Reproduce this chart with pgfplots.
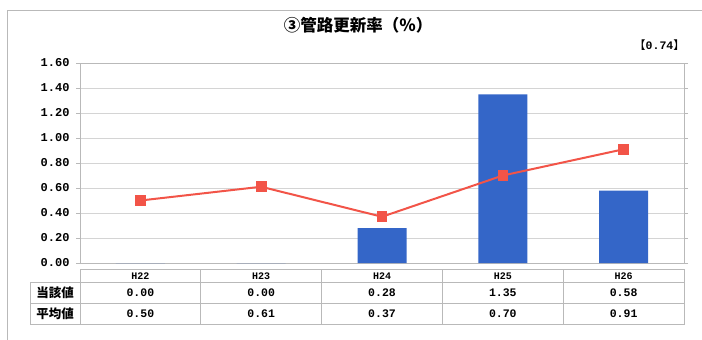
\documentclass[border=0pt]{standalone}
\usepackage{pgfplots}
\pgfplotsset{compat=1.18}
\usepackage{fontspec}
\setmainfont{Liberation Sans}
\newfontfamily\cjk{Noto Sans CJK JP}
\newfontfamily\mono{Liberation Mono}
\definecolor{barblue}{RGB}{52,102,200}
\definecolor{linered}{RGB}{242,84,72}
\definecolor{gridc}{RGB}{212,212,212}
\definecolor{framec}{RGB}{185,185,185}
\begin{document}
\begin{tikzpicture}
\path[use as bounding box] (0,0) rectangle (702bp,-340bp);
% outer frame
\draw[framec, line width=0.8bp] (7.5bp,-340bp) -- (7.5bp,-10.5bp) -- (702bp,-10.5bp);
% title
\node[font={\cjk\bfseries\fontsize{16.5bp}{18bp}\selectfont}] at (358bp,-25bp) {③管路更新率（％）};
\node[anchor=east, inner sep=0pt, font={\fontsize{11.5bp}{12bp}\selectfont}] at (685bp,-45bp) {{\cjk 【}{\mono\bfseries 0.74}{\cjk 】}};
\begin{axis}[
  at={(80bp,-263bp)}, anchor=south west,
  scale only axis, width=604bp, height=200bp,
  xmin=-0.5, xmax=4.5, ymin=0, ymax=1.6,
  xtick=\empty,
  ytick={0,0.2,0.4,0.6,0.8,1.0,1.2,1.4,1.6},
  ymajorgrids, grid style={gridc, line width=0.6bp},
  axis line style={framec, line width=0.8bp},
  tick align=outside, major tick length=4bp,
  ytick style={framec, line width=0.7bp},
  /pgf/number format/assume math mode=true,
  yticklabel={\pgfmathprintnumber[fixed,fixed zerofill,precision=2]{\tick}},
  yticklabel style={font={\mono\bfseries\fontsize{12bp}{12bp}\selectfont}, xshift=-3bp},
  clip=false,
]
\addplot[ybar, bar width=49bp, fill=barblue, draw=none] coordinates {(0,0) (1,0) (2,0.28) (3,1.35) (4,0.58)};
\addplot[color=linered, line width=2bp, mark=square*, mark size=4.3bp, mark options={fill=linered, draw=linered}] coordinates {(0,0.50) (1,0.61) (2,0.37) (3,0.70) (4,0.91)};
\end{axis}
% data table
\begin{scope}[draw=framec, line width=0.7bp]
\draw (80bp,-269.5bp) rectangle (684bp,-324.5bp);
\draw (30.5bp,-282.5bp) rectangle (80bp,-324.5bp);
\draw (30.5bp,-282.5bp) -- (684bp,-282.5bp);
\draw (30.5bp,-303.5bp) -- (684bp,-303.5bp);
\foreach \xx in {200.8,321.6,442.4,563.2} {\draw (\xx bp,-269.5bp) -- (\xx bp,-324.5bp);}
\end{scope}
\begin{scope}[font={\mono\bfseries\fontsize{11.5bp}{12bp}\selectfont}]
\foreach \cx/\h/\a/\b in {140.4/H22/0.00/0.50, 261.2/H23/0.00/0.61, 382/H24/0.28/0.37, 502.8/H25/1.35/0.70, 623.6/H26/0.58/0.91} {
  \node[font={\mono\bfseries\fontsize{10bp}{10bp}\selectfont}] at (\cx bp,-276bp) {\h};
  \node at (\cx bp,-293bp) {\a};
  \node at (\cx bp,-314bp) {\b};
}
\end{scope}
\node[font={\cjk\bfseries\fontsize{12.5bp}{13bp}\selectfont}] at (55bp,-293bp) {当該値};
\node[font={\cjk\bfseries\fontsize{12.5bp}{13bp}\selectfont}] at (55bp,-314bp) {平均値};
\end{tikzpicture}
\end{document}
